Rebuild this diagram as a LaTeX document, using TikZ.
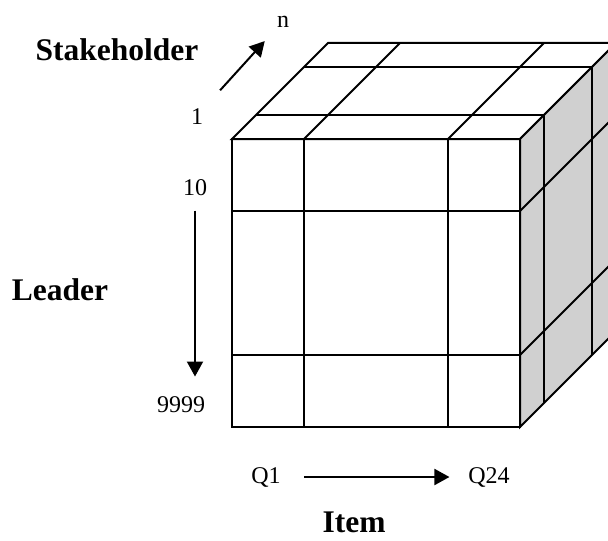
\documentclass[tikz,border=0pt]{standalone}
\usepackage{fontspec}
\setmainfont{Liberation Serif}
\usetikzlibrary{arrows.meta}
\definecolor{sidecolor}{RGB}{208,208,208}

\begin{document}
\begin{tikzpicture}[
    x=0.5pt, y=-0.5pt,
    face/.style={draw, line width=1pt, line join=miter},
    grid/.style={line width=1pt},
    axislabel/.style={font=\fontsize{15.75}{18}\selectfont\bfseries, inner sep=0pt},
    tick/.style={font=\fontsize{12}{14}\selectfont, inner sep=0pt},
    arrow/.style={-{Triangle[length=7.5pt, width=8pt]}, line width=1pt}
]
    \useasboundingbox (0,0) rectangle (608,540);
    \clip (0,0) rectangle (608,540);

    % Cube faces
    \draw[face, fill=white] (232,139) rectangle (520,427);
    \draw[face, fill=white] (232,139) -- (328,43) -- (616,43) -- (520,139) -- cycle;
    \draw[face, fill=sidecolor] (520,139) -- (616,43) -- (616,331) -- (520,427) -- cycle;

    % Front grid
    \draw[grid] (304,139) -- (304,427);
    \draw[grid] (448,139) -- (448,427);
    \draw[grid] (232,211) -- (520,211);
    \draw[grid] (232,355) -- (520,355);

    % Top grid
    \draw[grid] (304,139) -- (400,43);
    \draw[grid] (448,139) -- (544,43);
    \draw[grid] (256,115) -- (544,115);
    \draw[grid] (304,67) -- (592,67);

    % Side grid
    \draw[grid] (520,211) -- (616,115);
    \draw[grid] (520,355) -- (616,259);
    \draw[grid] (544,115) -- (544,403);
    \draw[grid] (592,67) -- (592,355);

    % Axis labels
    \node[axislabel] (stake) at (117,50) {Stakeholder};
    \node[axislabel] (leader) at (60,290) {Leader};
    \node[axislabel] (item) at (354,522) {Item};

    % Ticks
    \node[tick] (n) at (283,22) {n};
    \node[tick] (one) at (197,117) {1};
    \node[tick] (ten) at (195,188) {10};
    \node[tick] (nines) at (181,405) {9999};
    \node[tick] (q1) at (266,477) {Q1};
    \node[tick] (q24) at (489,477) {Q24};

    % Arrows
    \draw[arrow, shorten <=12.4pt, shorten >=8.8pt] (one.north east) -- (n.south west);
    \draw[arrow, shorten <=7pt, shorten >=10pt] (ten.south) -- (ten.south |- nines.north);
    \draw[arrow, shorten <=11.5pt, shorten >=9.25pt] (q1.east) -- (q24.west);
\end{tikzpicture}
\end{document}
